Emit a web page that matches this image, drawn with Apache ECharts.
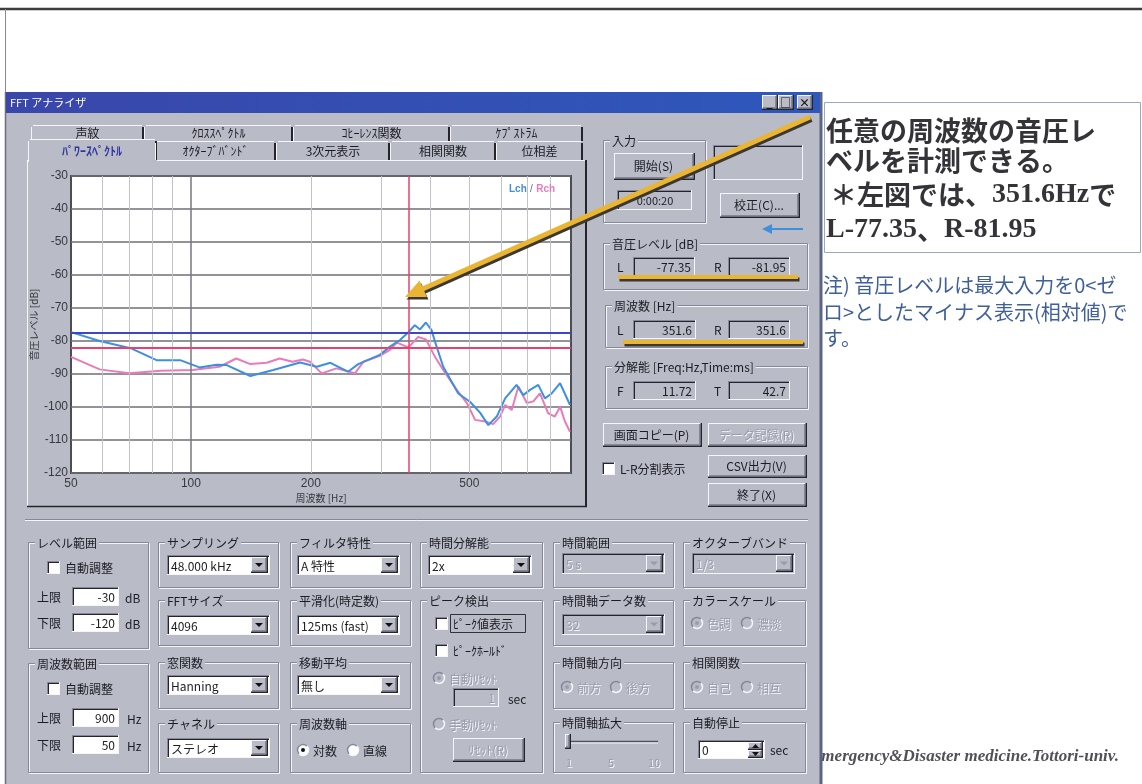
<!DOCTYPE html>
<html lang="ja">
<head>
<meta charset="utf-8">
<title>FFT アナライザ</title>
<script src="https://cdn.jsdelivr.net/npm/echarts@6.0.0/dist/echarts.min.js"></script>
<style>
html,body{margin:0;padding:0;background:#fff;}
#chart{width:1142px;height:784px;}
</style>
</head>
<body>
<div id="chart"></div>
<script>
// ---- power spectrum (frequency in Hz, level in dB relative to full scale) ----
const lchFreq  = [50, 59, 71, 82, 94, 105, 116, 123, 141, 161, 188, 207, 224, 248, 263, 298, 316, 335, 351.6, 365, 376, 389, 402, 410, 430, 469, 502, 532, 558, 586, 615, 657, 683, 710, 745, 774, 805, 845, 895];
const lchLevel = [-77.3, -80.0, -82.3, -85.8, -85.8, -88.0, -87.2, -87.3, -90.6, -88.8, -86.5, -87.8, -86.6, -89.3, -87.0, -84.2, -81.7, -79.7, -77.35, -75.2, -76.5, -74.4, -76.7, -80.2, -87.8, -95.9, -98.4, -101.7, -105.5, -102.9, -97.4, -93.3, -96.4, -94.8, -93.3, -97.4, -95.9, -92.8, -99.4];
const rchFreq  = [50, 59, 70, 84, 101, 118, 130, 141, 155, 167, 180, 191, 199, 213, 232, 258, 271, 298, 316, 329, 351.6, 372, 389, 410, 430, 465, 493, 517, 548, 574, 597, 615, 639, 664, 697, 724, 752, 789, 820, 845, 869, 895];
const rchLevel = [-84.8, -88.6, -89.8, -89.0, -88.8, -87.8, -85.3, -87.0, -86.6, -85.3, -86.3, -85.6, -86.3, -89.8, -88.3, -89.8, -86.3, -84.5, -82.7, -80.5, -81.95, -78.8, -79.5, -84.8, -88.8, -94.8, -98.8, -103.9, -104.4, -105.2, -102.9, -99.4, -100.9, -93.8, -98.8, -98.3, -95.9, -101.9, -102.9, -99.9, -104.4, -107.5];

// cursor readout
const cursorHz = 351.6;
const levelL = -77.35;
const levelR = -81.95;
const resolutionHz = 11.72;
const resolutionMs = 42.7;

// axes
const freqMin = 50, freqMax = 900;
const levelMin = -120, levelMax = -30, levelStep = 10;
const freqLabels = [50, 100, 200, 500];
const freqGrid = [60, 70, 80, 90, 100, 200, 300, 400, 500, 600, 700, 800];

const pairs = (xs, ys) => xs.map((x, i) => [x, ys[i]]);

// ---- window chrome drawn with graphic elements ----
const BODY = '#b9bbc7', SHADE = '#85879a', HI = '#f6f6fa', DARK = '#24242a', TXT = '#1c1c22', DIS = '#9a9caa';
const UI = '"Noto Sans CJK JP","Noto Sans",sans-serif';
const G = [];
function add(el) { el.silent = true; if (el.z == null) el.z = 0; G.push(el); }
function box(x, y, w, h, fill, z) { add({ type: 'rect', shape: { x, y, width: w, height: h }, style: { fill }, z }); }
function frame(x, y, w, h, stroke, lw, z) { add({ type: 'rect', shape: { x, y, width: w, height: h }, style: { fill: 'none', stroke, lineWidth: lw || 1 }, z }); }
function ln(x1, y1, x2, y2, stroke, lw, z, dash) {
  const st = { stroke, lineWidth: lw || 1 };
  if (dash) st.lineDash = dash;
  add({ type: 'line', shape: { x1, y1, x2, y2 }, style: st, z });
}
function tx(x, y, s, o) {
  o = o || {};
  const align = o.align || 'left', va = o.va || 'middle';
  const st = {
    text: String(s), fill: o.color || TXT,
    font: o.font || ((o.weight || 'normal') + ' ' + (o.size || 12) + 'px ' + UI),
    align, verticalAlign: va, textAlign: align, textVerticalAlign: va
  };
  if (o.bg) { st.backgroundColor = o.bg; st.padding = o.pad || [0, 2]; }
  if (o.rich) st.rich = o.rich;
  add({ type: 'text', x, y, style: st, z: o.z });
}
function dtx(x, y, s, o) {
  o = o || {};
  tx(x + 1, y + 1, s, Object.assign({}, o, { color: HI }));
  tx(x, y, s, Object.assign({}, o, { color: DIS }));
}
function etched(x, y, w, h) {
  frame(x + 1.5, y + 1.5, w, h, HI, 1);
  frame(x + 0.5, y + 0.5, w, h, SHADE, 1);
}
function group(x, y, w, h, label) {
  etched(x, y, w, h);
  tx(x + 7, y + 1, label, { bg: BODY, pad: [0, 2] });
}
function sunken(x, y, w, h, fill) {
  box(x, y, w, h, fill);
  ln(x, y + 0.5, x + w, y + 0.5, SHADE);
  ln(x + 0.5, y, x + 0.5, y + h, SHADE);
  ln(x + 1, y + 1.5, x + w - 1, y + 1.5, DARK);
  ln(x + 1.5, y + 1, x + 1.5, y + h - 1, DARK);
  ln(x, y + h - 0.5, x + w, y + h - 0.5, HI);
  ln(x + w - 0.5, y, x + w - 0.5, y + h, HI);
}
function field(x, y, w, h, fill, val, dis) {
  sunken(x, y, w, h, fill);
  if (val != null) (dis ? dtx : tx)(x + w - 4, y + h / 2 + 1, val, { align: 'right' });
}
function raised(x, y, w, h) {
  box(x, y, w, h, BODY);
  ln(x, y + 0.5, x + w - 1, y + 0.5, HI);
  ln(x + 0.5, y, x + 0.5, y + h - 1, HI);
  ln(x + 1, y + h - 2.5, x + w - 2, y + h - 2.5, SHADE);
  ln(x + w - 2.5, y + 1, x + w - 2.5, y + h - 2, SHADE);
  ln(x, y + h - 0.75, x + w, y + h - 0.75, DARK, 1.5);
  ln(x + w - 0.75, y, x + w - 0.75, y + h, DARK, 1.5);
}
function button(x, y, w, h, label, dis) {
  raised(x, y, w, h);
  (dis ? dtx : tx)(x + w / 2 - 1, y + h / 2, label, { align: 'center' });
}
function tri(cx, cy, fill) {
  add({ type: 'polygon', shape: { points: [[cx - 4, cy - 2], [cx + 4, cy - 2], [cx, cy + 2]] }, style: { fill } });
}
function combo(x, y, w, h, val, dis) {
  sunken(x, y, w, h, dis ? BODY : '#fff');
  (dis ? dtx : tx)(x + 4, y + h / 2 + 1, val, {});
  raised(x + w - 19, y + 2, 17, h - 4);
  tri(x + w - 11, y + h / 2, dis ? DIS : '#111');
}
function check(x, y, label) {
  sunken(x, y, 13, 13, '#fff');
  tx(x + 18, y + 7, label, {});
}
function radio(cx, cy, on, label, dis) {
  add({ type: 'circle', shape: { cx, cy, r: 6 }, style: { fill: dis ? BODY : '#fff' } });
  add({ type: 'arc', shape: { cx, cy, r: 5.5, startAngle: Math.PI * 0.75, endAngle: Math.PI * 1.75 }, style: { stroke: SHADE, lineWidth: 1.5, fill: 'none' } });
  add({ type: 'arc', shape: { cx, cy, r: 5.5, startAngle: -Math.PI * 0.25, endAngle: Math.PI * 0.75 }, style: { stroke: HI, lineWidth: 1.5, fill: 'none' } });
  if (on) add({ type: 'circle', shape: { cx, cy, r: 2 }, style: { fill: dis ? DIS : '#111' } });
  (dis ? dtx : tx)(cx + 10, cy + 1, label, {});
}

// page frame
ln(0, 9, 1142, 9, '#3c3c42', 2.5);
ln(5.5, 9, 5.5, 92, '#8a8a90', 1);

// footer credit, partly behind the window
tx(1119, 757, 'Emergency&Disaster medicine.Tottori-univ.', { font: 'italic bold 17px "Liberation Serif", serif', color: '#505158', align: 'right' });

// window body and title bar
box(5, 92, 817, 692, BODY);
ln(5.5, 92, 5.5, 784, '#6c6e7c', 1.5);
ln(821, 92, 821, 784, '#5c6680', 3);
add({ type: 'rect', shape: { x: 6, y: 92, width: 814, height: 21 },
  style: { fill: { type: 'linear', x: 0, y: 0, x2: 1, y2: 0, colorStops: [{ offset: 0, color: '#3a46aa' }, { offset: 1, color: '#2e58bc' }] } } });
tx(10, 103, 'FFT アナライザ', { color: '#fff', size: 11 });
[[762, '_'], [778, '□'], [797, '×']].forEach(function (b) {
  raised(b[0], 95, 16, 15);
  tx(b[0] + 7.5, 103, b[1], { align: 'center', size: 11, weight: 'bold', color: '#111' });
});

// ---- tab control ----
const tabsBack = [['声紋', 31, 144], ['ｸﾛｽｽﾍﾟｸﾄﾙ', 144, 293], ['ｺﾋｰﾚﾝｽ関数', 293, 450], ['ｹﾌﾟｽﾄﾗﾑ', 450, 583]];
const tabsFront = [['ﾊﾟﾜｰｽﾍﾟｸﾄﾙ', 31, 155], ['ｵｸﾀｰﾌﾞﾊﾞﾝﾄﾞ', 155, 276], ['3次元表示', 276, 390], ['相関関数', 390, 496], ['位相差', 496, 583]];
tabsBack.forEach(function (t) {
  ln(t[1] + 2, 125.5, t[2] - 2, 125.5, HI);
  ln(t[1] + 0.5, 127, t[1] + 0.5, 141, HI);
  ln(t[2] - 1, 127, t[2] - 1, 141, DARK, 2);
  tx((t[1] + t[2]) / 2, 133.5, t[0], { align: 'center', size: 12 });
});
// page
ln(27, 160.5, 587, 160.5, HI);
ln(27.5, 160, 27.5, 507, HI);
ln(586, 160, 586, 507, DARK, 2);
ln(27, 506.5, 587, 506.5, DARK, 1.5);
tabsFront.forEach(function (t, i) {
  if (i === 0) {
    box(28, 139, 129, 23, BODY);
    ln(30, 139.5, 155, 139.5, HI);
    ln(28.5, 141, 28.5, 162, HI);
    ln(156, 141, 156, 160, DARK, 2);
    tx(92, 151, t[0], { align: 'center', size: 12, weight: 'bold', color: '#2f37a0' });
  } else {
    ln(t[1] + 2, 141.5, t[2] - 2, 141.5, HI);
    ln(t[1] + 0.5, 143, t[1] + 0.5, 160, HI);
    ln(t[2] - 1, 143, t[2] - 1, 160, DARK, 2);
    tx((t[1] + t[2]) / 2, 151.5, t[0], { align: 'center', size: 12 });
  }
});

// ---- right side readouts ----
group(603, 140, 102, 82, '入力');
button(614, 153, 81, 27, '開始(S)');
sunken(617, 190, 75, 20, BODY);
tx(655, 201, '0:00:20', { align: 'center', size: 11 });
sunken(713, 145, 90, 35, BODY);
button(720, 193, 80, 25, '校正(C)...');

group(603, 243, 204, 46, '音圧レベル [dB]');
tx(617, 267, 'L', {}); field(633, 257, 62, 19, BODY, levelL.toFixed(2));
tx(714, 267, 'R', {}); field(728, 257, 62, 19, BODY, levelR.toFixed(2));

group(605, 305, 202, 42, '周波数 [Hz]');
tx(617, 330, 'L', {}); field(633, 320, 63, 19, BODY, cursorHz.toFixed(1));
tx(714, 330, 'R', {}); field(728, 320, 62, 19, BODY, cursorHz.toFixed(1));

group(605, 366, 202, 42, '分解能 [Freq:Hz,Time:ms]');
tx(617, 391, 'F', {}); field(633, 381, 63, 19, BODY, resolutionHz.toFixed(2));
tx(714, 391, 'T', {}); field(728, 381, 62, 19, BODY, resolutionMs.toFixed(1));

button(603, 423, 99, 24, '画面コピー(P)');
button(708, 423, 99, 24, 'データ記録(R)', true);
check(602, 462, 'L-R分割表示');
button(708, 455, 99, 23, 'CSV出力(V)');
button(708, 483, 99, 24, '終了(X)');

// ---- settings panel ----
ln(25, 519.5, 808, 519.5, SHADE);
ln(25, 520.5, 808, 520.5, HI);

group(28, 542, 120, 106, 'レベル範囲');
check(47, 561, '自動調整');
tx(37, 597, '上限', {}); field(72, 587, 47, 19, '#fff', '-30'); tx(125, 598, 'dB', {});
tx(37, 623, '下限', {}); field(72, 613, 47, 19, '#fff', '-120'); tx(125, 624, 'dB', {});

group(28, 663, 120, 109, '周波数範囲');
check(47, 682, '自動調整');
tx(37, 718, '上限', {}); field(72, 708, 47, 19, '#fff', String(freqMax)); tx(127, 719, 'Hz', {});
tx(37, 745, '下限', {}); field(72, 735, 47, 19, '#fff', String(freqMin)); tx(127, 746, 'Hz', {});

group(158, 542, 120, 45, 'サンプリング'); combo(167, 555, 103, 20, '48.000 kHz');
group(158, 600, 120, 45, 'FFTサイズ'); combo(167, 615, 103, 20, '4096');
group(158, 662, 120, 46, '窓関数'); combo(167, 675, 103, 20, 'Hanning');
group(158, 723, 120, 49, 'チャネル'); combo(167, 738, 103, 20, 'ステレオ');

group(290, 542, 120, 45, 'フィルタ特性'); combo(297, 555, 103, 20, 'A 特性');
group(290, 600, 120, 45, '平滑化(時定数)'); combo(297, 615, 103, 20, '125ms (fast)');
group(290, 662, 120, 46, '移動平均'); combo(297, 675, 103, 20, '無し');
group(290, 723, 120, 49, '周波数軸');
radio(303, 750, true, '対数'); radio(353, 750, false, '直線');

group(420, 542, 122, 45, '時間分解能'); combo(428, 555, 104, 20, '2x');
group(420, 600, 122, 172, 'ピーク検出');
check(435, 617, 'ﾋﾟｰｸ値表示');
frame(450.5, 614.5, 75, 18, '#333', 1);
check(435, 644, 'ﾋﾟｰｸﾎｰﾙﾄﾞ');
radio(439, 678, true, '自動ﾘｾｯﾄ', true);
field(453, 688, 46, 19, BODY, '1', true); tx(508, 699, 'sec', {});
radio(439, 724, false, '手動ﾘｾｯﾄ', true);
button(453, 738, 72, 24, 'ﾘｾｯﾄ(R)', true);

group(553, 542, 120, 45, '時間範囲'); combo(562, 553, 103, 21, '5 s', true);
group(553, 600, 120, 45, '時間軸データ数'); combo(562, 614, 103, 21, '32', true);
group(553, 662, 120, 46, '時間軸方向');
radio(567, 687, true, '前方', true); radio(616, 687, false, '後方', true);
group(553, 722, 120, 50, '時間軸拡大');
ln(567, 741.5, 658, 741.5, '#50525e', 1.5); ln(567, 743, 658, 743, HI);
raised(565, 734, 6, 15);
dtx(569, 763, '1', { align: 'center', size: 11 });
dtx(611, 763, '5', { align: 'center', size: 11 });
dtx(654, 763, '10', { align: 'center', size: 11 });

group(683, 542, 122, 45, 'オクターブバンド'); combo(692, 553, 103, 21, '1/3', true);
group(683, 600, 122, 45, 'カラースケール');
radio(697, 623, true, '色調', true); radio(747, 623, false, '濃淡', true);
group(683, 662, 122, 46, '相関関数');
radio(697, 687, true, '自己', true); radio(747, 687, false, '相互', true);
group(683, 722, 122, 50, '自動停止');
sunken(698, 740, 67, 19, '#fff'); tx(702, 750, '0', {});
raised(748, 742, 15, 8); raised(748, 750, 15, 8);
add({ type: 'polygon', shape: { points: [[752, 748], [759, 748], [755.5, 744]] }, style: { fill: '#111' } });
add({ type: 'polygon', shape: { points: [[752, 752], [759, 752], [755.5, 756]] }, style: { fill: '#111' } });
tx(770, 750, 'sec', {});

// ---- note on the right ----
frame(824.5, 102.5, 316, 150, '#9aaac2', 1);
const bigCJK = 'bold 27px "Noto Sans CJK JP"';
const bigSerif = 'bold 28px "Liberation Serif", serif';
tx(826, 131, '任意の周波数の音圧レ', { font: bigCJK, color: '#343438' });
tx(826, 161, 'ベルを計測できる。', { font: bigCJK, color: '#343438' });
tx(830, 195, '{c|＊左図では、}{s|' + cursorHz + 'Hz}{c|で}', { font: bigCJK, color: '#343438',
  rich: { c: { font: bigCJK, fill: '#343438' }, s: { font: bigSerif, fill: '#343438' } } });
tx(826, 230, '{s|L' + levelL + '}{c|、}{s|R' + levelR + '}', { font: bigCJK, color: '#343438',
  rich: { c: { font: bigCJK, fill: '#343438' }, s: { font: bigSerif, fill: '#343438' } } });
const noteFont = '20px "Noto Sans CJK JP"';
tx(823, 285, '注) 音圧レベルは最大入力を0<ゼ', { font: noteFont, color: '#40609a' });
tx(823, 312, 'ロ>としたマイナス表示(相対値)で', { font: noteFont, color: '#40609a' });
tx(823, 338, 'す。', { font: noteFont, color: '#40609a' });

// ---- highlight marks ----
function gold(x1, y1, x2, y2, w) {
  ln(x1 + 1.5, y1 + 2.5, x2 + 1.5, y2 + 2.5, '#3b3832', w, 50);
  ln(x1, y1, x2, y2, '#ebb534', w, 51);
}
function head(tx0, ty0, dx, dy, len, half, fill, z) {
  const n = Math.hypot(dx, dy), ux = dx / n, uy = dy / n;
  const bx = tx0 - ux * len, by = ty0 - uy * len;
  add({ type: 'polygon', z, shape: { points: [[tx0, ty0], [bx - uy * half, by + ux * half], [bx + uy * half, by - ux * half]] }, style: { fill } });
}
gold(810, 117, 418, 291, 5);
head(406.5, 299.5, -396, 177, 20, 9, '#3b3832', 50);
head(405, 297, -396, 177, 20, 9, '#ebb534', 51);
gold(618, 277, 798, 277, 4);
gold(623, 342, 803, 342, 4);
ln(803, 229, 768, 229, '#3f8fdc', 2, 50);
head(762, 229, -1, 0, 10, 5, '#3f8fdc', 50);

// channel key inside the plot
G.push({
  type: 'text', z: 10, silent: true, x: 509, y: 189,
  style: { text: '{l|Lch} {s|/} {r|Rch}', align: 'left', verticalAlign: 'middle', textAlign: 'left', textVerticalAlign: 'middle',
    rich: { l: { fill: '#3f8fe0', font: 'bold 10px "Liberation Sans"' }, s: { fill: '#707078', font: '10px "Liberation Sans"' }, r: { fill: '#e97bb9', font: 'bold 10px "Liberation Sans"' } } }
});

// ---- chart ----
const chart = echarts.init(document.getElementById('chart'), null, { renderer: 'canvas' });
chart.setOption({
  animation: false,
  backgroundColor: '#fff',
  graphic: { elements: G },
  grid: { left: 71, top: 176, width: 500, height: 297, show: true, backgroundColor: '#fff', borderColor: '#4c4c54', borderWidth: 2, z: 1 },
  xAxis: {
    type: 'log', logBase: 10, min: freqMin, max: freqMax, z: 3,
    axisLine: { show: false }, axisTick: { show: false }, splitLine: { show: false }, minorSplitLine: { show: false },
    axisLabel: { customValues: freqLabels, formatter: function (v) { return String(Math.round(v)); }, color: '#38383e', fontSize: 12, margin: 5, fontFamily: 'Liberation Sans' },
    name: '周波数 [Hz]', nameLocation: 'middle', nameGap: 20,
    nameTextStyle: { color: '#38383e', fontSize: 10, fontFamily: 'Noto Sans CJK JP' }
  },
  yAxis: {
    type: 'value', min: levelMin, max: levelMax, interval: levelStep, z: 3,
    axisLine: { show: false }, axisTick: { show: false },
    splitLine: { show: true, lineStyle: { color: '#6e6e76', width: 1.5 } },
    axisLabel: { color: '#38383e', fontSize: 12, margin: 3, fontFamily: 'Liberation Sans' },
    name: '音圧レベル [dB]', nameLocation: 'middle', nameGap: 32, nameRotate: 90,
    nameTextStyle: { color: '#38383e', fontSize: 10, fontFamily: 'Noto Sans CJK JP' }
  },
  series: [
    {
      type: 'line', z: 2, silent: true, data: [[cursorHz, levelL]], symbol: 'none', lineStyle: { opacity: 0 },
      markLine: {
        silent: true, symbol: ['none', 'none'], label: { show: false }, animation: false,
        data: freqGrid.map(function (f) {
          return { xAxis: f, lineStyle: { type: 'solid', color: f === 100 ? '#76767e' : '#c2c2ca', width: f === 100 ? 1.5 : 1 } };
        })
      }
    },
    { name: 'Rch', type: 'line', z: 3, silent: true, data: pairs(rchFreq, rchLevel), symbol: 'none', lineStyle: { color: '#e97bb9', width: 2 } },
    {
      name: 'Lch', type: 'line', z: 4, silent: true, data: pairs(lchFreq, lchLevel), symbol: 'none', lineStyle: { color: '#3f8fe0', width: 2 },
      markLine: {
        silent: true, symbol: ['none', 'none'], label: { show: false }, animation: false,
        data: [
          { yAxis: levelL, lineStyle: { type: 'solid', color: '#3b47c6', width: 2 } },
          { yAxis: levelR, lineStyle: { type: 'solid', color: '#e8416b', width: 2 } },
          { xAxis: cursorHz, lineStyle: { type: 'solid', color: '#e8416b', width: 1.5 } }
        ]
      }
    }
  ]
});
</script>
</body>
</html>
